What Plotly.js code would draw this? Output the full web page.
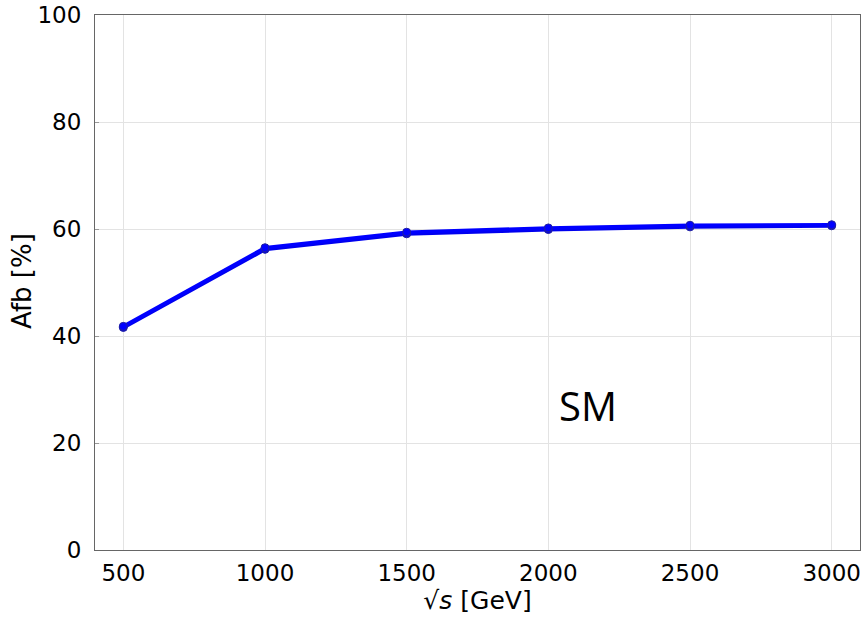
<!DOCTYPE html>
<html>
<head>
<meta charset="utf-8">
<script src="https://cdn.plot.ly/plotly-3.0.1.min.js"></script>
<style>html,body{margin:0;padding:0;background:#fff;}#chart{width:862px;height:617px;}</style>
</head>
<body>
<div id="chart"></div>
<script>
const energies = [500, 1000, 1500, 2000, 2500, 3000];
const afbA = [41.6, 56.2, 59.1, 59.9, 60.4, 60.6];
const afbB = [41.8, 56.5, 59.4, 60.2, 60.7, 60.8];
const xTicks = [500, 1000, 1500, 2000, 2500, 3000];
const yTicks = [0, 20, 40, 60, 80, 100];

const traces = [
  {x: energies, y: afbA, mode: 'lines+markers', line: {color: '#0000ee', width: 4}, marker: {color: '#0000ee', size: 8, line: {color: '#2020a0', width: 1}}, showlegend: false},
  {x: energies, y: afbB, mode: 'lines+markers', line: {color: '#0000ff', width: 3.5}, marker: {color: '#0000ff', size: 8, line: {color: '#2020a0', width: 1}}, showlegend: false}
];

const layout = {
  width: 862, height: 617,
  margin: {l: 95, r: 2, t: 15, b: 67},
  paper_bgcolor: '#fff', plot_bgcolor: '#fff',
  font: {family: 'DejaVu Sans', size: 23, color: '#000'},
  xaxis: {
    range: [400, 3100], tickvals: xTicks, ticktext: xTicks.map(String),
    showgrid: true, gridcolor: '#e3e3e3', gridwidth: 1,
    showline: true, linecolor: '#666', linewidth: 1, mirror: true,
    ticks: '', zeroline: false, ticklabelstandoff: 2,
    title: {text: '√<i>s</i> [GeV]', font: {size: 25}, standoff: 2}
  },
  yaxis: {
    range: [0, 100], tickvals: yTicks, ticktext: yTicks.map(String),
    showgrid: true, gridcolor: '#e3e3e3', gridwidth: 1,
    showline: true, linecolor: '#666', linewidth: 1, mirror: true,
    ticks: 'inside', ticklen: 4, tickcolor: '#999', zeroline: false,
    ticklabelstandoff: 8
  },
  annotations: [
    {
      x: 2140, y: 27, xref: 'x', yref: 'y', text: 'SM', showarrow: false,
      font: {family: 'Open Sans', size: 40, color: '#000'}
    },
    {
      x: -0.0954, y: 0.503, xref: 'paper', yref: 'paper', text: 'Afb [%]',
      textangle: -90, showarrow: false, xanchor: 'center', yanchor: 'middle',
      font: {family: 'DejaVu Sans', size: 26, color: '#000'}
    }
  ]
};

Plotly.newPlot('chart', traces, layout, {displayModeBar: false, staticPlot: true});
</script>
</body>
</html>
